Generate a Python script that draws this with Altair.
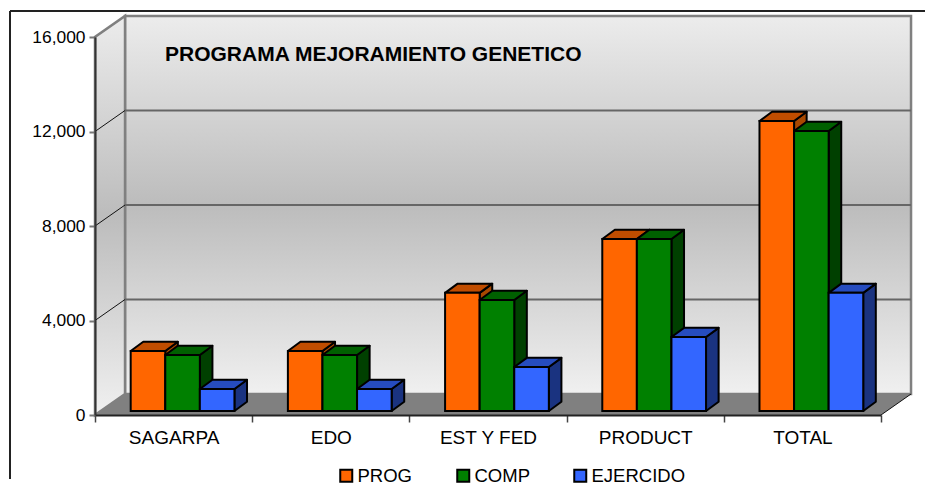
import altair as alt
import pandas as pd

categories = ["SAGARPA", "EDO", "EST Y FED", "PRODUCT", "TOTAL"]
series_names = ["PROG", "COMP", "EJERCIDO"]
prog = [2540, 2540, 5000, 7280, 12275]
comp = [2370, 2370, 4700, 7280, 11850]
ejercido = [930, 930, 1860, 3130, 5000]
values = {"PROG": prog, "COMP": comp, "EJERCIDO": ejercido}
chart_title = "PROGRAMA MEJORAMIENTO GENETICO"

front_colors = ["#FF6600", "#008000", "#3366FF"]
top_colors = ["#C04D00", "#006000", "#264CBF"]
side_colors = ["#A84800", "#004000", "#1A3380"]
y_ticks = [0, 4000, 8000, 12000, 16000]

FONT = "Liberation Sans"
WALL_DX, WALL_DY = 0.191, 889      # depth of the back wall, in axis units
BAR_DX, BAR_DY = 0.08, 390         # depth of each bar, in axis units
BAR_BASE = 170
BAR_START, BAR_W = 0.227, 0.22
YMAX = 16000
NCAT = len(categories)

x_scale = alt.Scale(domain=[0, NCAT], nice=False, zero=False)
y_scale = alt.Scale(domain=[0, YMAX], nice=False, zero=False)
names_js = "[" + ",".join(f"'{c}'" for c in categories) + "]"
x_axis = alt.Axis(
    values=list(range(NCAT + 1)), grid=False, zindex=1,
    labelExpr=f"datum.value < {NCAT} ? {names_js}[datum.value] : ''",
    labelOffset=78.6, labelFlush=False, labelBound=False, labelOverlap=False,
    labelFont=FONT, labelFontSize=19, labelColor="black", labelPadding=6,
    tickSize=7, tickColor="#444444", tickWidth=1.5,
    domainColor="#222222", domainWidth=2)
y_axis = alt.Axis(
    values=y_ticks, format=",d", grid=False, zindex=1,
    labelFont=FONT, labelFontSize=17.4, labelColor="black", labelPadding=4,
    tickSize=6, tickColor="#777777", tickWidth=2,
    domainColor="#333333", domainWidth=2)
X = alt.X("x:Q", scale=x_scale, title=None, axis=x_axis)
Y = alt.Y("y:Q", scale=y_scale, title=None, axis=y_axis)
wall_fill = alt.LinearGradient(
    gradient="linear", x1=0, y1=0, x2=0, y2=1,
    stops=[alt.GradientStop(offset=0, color="#ECECEC"),
           alt.GradientStop(offset=0.5, color="#BCBCBC"),
           alt.GradientStop(offset=1, color="#F0F0F0")])

# Back wall
back = alt.Chart(pd.DataFrame([dict(x=WALL_DX, x2=NCAT + WALL_DX, y=WALL_DY, y2=YMAX + WALL_DY)])).mark_rect(
    fill=wall_fill, stroke="#808080", strokeWidth=2.5
).encode(x=X, x2="x2:Q", y=Y, y2="y2:Q")

# Side wall
side = alt.Chart(pd.DataFrame([dict(x=0, y=0, y2=YMAX), dict(x=WALL_DX, y=WALL_DY, y2=YMAX + WALL_DY)])).mark_area(
    fill=wall_fill, stroke="#808080", strokeWidth=2.5
).encode(x=X, y=Y, y2="y2:Q")

# Floor
floor = alt.Chart(pd.DataFrame([dict(y=0, x=0, x2=NCAT), dict(y=WALL_DY, x=WALL_DX, x2=NCAT + WALL_DX)])).mark_area(
    orient="horizontal", fill="#808080"
).encode(x=X, x2="x2:Q", y=Y)

# Grid on the back wall and the diagonals on the side wall
grid = alt.Chart(pd.DataFrame([dict(x=WALL_DX, x2=NCAT + WALL_DX, y=v + WALL_DY) for v in y_ticks[1:-1]])).mark_rule(
    color="#666666", strokeWidth=2
).encode(x=X, x2="x2:Q", y=Y)
diag_rows = []
for v in y_ticks[1:-1]:
    diag_rows += [dict(g=v, x=0, y=v), dict(g=v, x=WALL_DX, y=v + WALL_DY)]
diag_rows += [dict(g=-1, x=NCAT, y=0), dict(g=-1, x=NCAT + WALL_DX, y=WALL_DY)]
diag = alt.Chart(pd.DataFrame(diag_rows)).mark_line(color="#111111", strokeWidth=1).encode(x=X, y=Y, detail="g:N")

# Bars: drawn series by series so nearer faces cover the previous ones
front_rows, side_rows, top_rows = [], [], []
for s, name in enumerate(series_names):
    for c, cat in enumerate(categories):
        x0 = c + BAR_START + s * BAR_W
        x1 = x0 + BAR_W
        top = BAR_BASE + values[name][c]
        front_rows.append(dict(series=name, cat=cat, x=x0, x2=x1, y=BAR_BASE, y2=top))
        side_rows += [dict(series=name, cat=cat, x=x1, y=BAR_BASE, y2=top),
                      dict(series=name, cat=cat, x=x1 + BAR_DX, y=BAR_BASE + BAR_DY, y2=top + BAR_DY)]
        top_rows += [dict(series=name, cat=cat, y=top, x=x0, x2=x1),
                     dict(series=name, cat=cat, y=top + BAR_DY, x=x0 + BAR_DX, x2=x1 + BAR_DX)]
front_df, side_df, top_df = map(pd.DataFrame, (front_rows, side_rows, top_rows))

legend = alt.Legend(
    title=None, orient="none", legendX=242, legendY=429, direction="horizontal", columns=3,
    gridAlign="all", columnPadding=1, symbolType="square", symbolSize=144,
    symbolStrokeColor="black", symbolStrokeWidth=2, symbolOpacity=1,
    labelFont=FONT, labelFontSize=18.5, labelColor="black", labelOffset=2,
)
bar_layers = []
for s, name in enumerate(series_names):
    flt = alt.datum.series == name
    bar_layers.append(alt.Chart(side_df).transform_filter(flt).mark_area(
        fill=side_colors[s], stroke="black", strokeWidth=2, strokeJoin="round"
    ).encode(x=X, y=Y, y2="y2:Q", detail="cat:N"))
    bar_layers.append(alt.Chart(top_df).transform_filter(flt).mark_area(
        orient="horizontal", fill=top_colors[s], stroke="black", strokeWidth=2, strokeJoin="round"
    ).encode(x=X, x2="x2:Q", y=Y, detail="cat:N"))
    bar_layers.append(alt.Chart(front_df).transform_filter(flt).mark_rect(
        stroke="black", strokeWidth=2, opacity=1
    ).encode(
        x=X, x2="x2:Q", y=Y, y2="y2:Q",
        color=alt.Color("series:N", scale=alt.Scale(domain=series_names, range=front_colors),
                        sort=series_names, legend=legend),
    ))

# Title, inside the back wall
title_mark = alt.Chart(pd.DataFrame([dict(t=chart_title)])).mark_text(
    align="left", baseline="alphabetic", font=FONT, fontSize=21, fontWeight="bold", color="black"
).encode(x=alt.value(70), y=alt.value(24), text="t:N")

# Outer frame (top and left edges only, in the picture)
frame_top = alt.Chart(pd.DataFrame([dict(a=0)])).mark_rule(color="#222222", strokeWidth=2).encode(
    x=alt.value(-85), x2=alt.value(832), y=alt.value(-26))
frame_left = alt.Chart(pd.DataFrame([dict(a=0)])).mark_rule(color="#222222", strokeWidth=2).encode(
    x=alt.value(-85), y=alt.value(-26), y2=alt.value(442))

chart = alt.layer(
    back, side, floor, grid, diag, *bar_layers, title_mark, frame_top, frame_left
).properties(
    width=786, height=378,
    padding={"left": 87, "top": 29, "right": 44, "bottom": 72},
    background="white",
    autosize=alt.AutoSizeParams(type="none"),
).configure_view(stroke=None)

chart.save("out.html", embed_options={"renderer": "svg", "actions": False})
